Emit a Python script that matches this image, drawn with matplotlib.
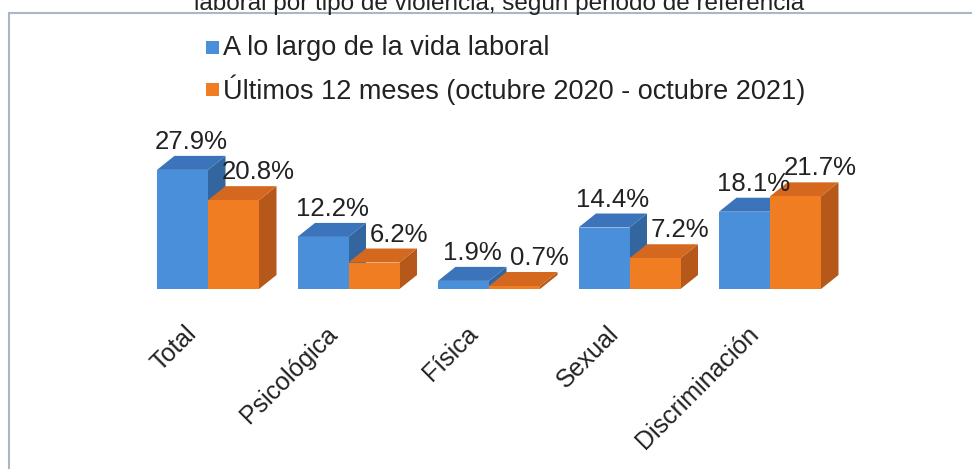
import matplotlib
matplotlib.use("Agg")
import matplotlib.pyplot as plt
from matplotlib.patches import Polygon, Rectangle
from matplotlib.lines import Line2D
from matplotlib.transforms import offset_copy

# ---------------------------------------------------------------------------
# data
# ---------------------------------------------------------------------------
categories = ["Total", "Psicológica", "Física", "Sexual", "Discriminación"]
vida_laboral = [27.9, 12.2, 1.9, 14.4, 18.1]
ultimos_12 = [20.8, 6.2, 0.7, 7.2, 21.7]
series_names = ["A lo largo de la vida laboral",
                "Últimos 12 meses (octubre 2020 - octubre 2021)"]
title = "laboral por tipo de violencia, según periodo de referencia"

# ---------------------------------------------------------------------------
# styling
# ---------------------------------------------------------------------------
plt.rcParams["font.family"] = ["Liberation Sans", "DejaVu Sans"]
TXT = "#222222"
BLUE = ("#4A8FD9", "#3B74BA", "#33669F")     # front, top, side
ORANGE = ("#F07D22", "#D4681F", "#B5581A")

W, H = 972, 469
fig = plt.figure(figsize=(W / 100, H / 100), dpi=100)


def fx(x):
    return x / W


def fy(y):  # y measured from top, in pixels
    return 1 - y / H


# axes placed so that the baseline sits at y=289 px
ax_left, ax_right, ax_bottom, ax_top = 60, 920, 289, 100
ax = fig.add_axes([fx(ax_left), fy(ax_bottom),
                   (ax_right - ax_left) / W, (ax_bottom - ax_top) / H])
px_per_cat = 140.5
px_per_pct = 4.27
x0 = -(208 - ax_left) / px_per_cat
ax.set_xlim(x0, x0 + (ax_right - ax_left) / px_per_cat)
ax.set_ylim(0, (ax_bottom - ax_top) / px_per_pct)
ax.axis("off")

bar_w = 51 / px_per_cat
depth_x = 17.5 / px_per_cat
depth_y = 14 / px_per_pct


def bar3d(xc, v, cols, z):
    left, right = xc - bar_w / 2, xc + bar_w / 2
    side = [(right, 0), (right + depth_x, depth_y),
            (right + depth_x, v + depth_y), (right, v)]
    top = [(left, v), (left + depth_x, v + depth_y),
           (right + depth_x, v + depth_y), (right, v)]
    ax.add_patch(Polygon(side, closed=True, facecolor=cols[2],
                         edgecolor="none", clip_on=False, zorder=z))
    ax.add_patch(Polygon(top, closed=True, facecolor=cols[1],
                         edgecolor="none", clip_on=False, zorder=z))
    ax.bar(xc, v, width=bar_w, color=cols[0], clip_on=False, zorder=z + 0.5)


for i, (a, b) in enumerate(zip(vida_laboral, ultimos_12)):
    bar3d(i - bar_w / 2, a, BLUE, 2 + i * 4)
    bar3d(i + bar_w / 2, b, ORANGE, 4 + i * 4)

# value labels
for i, (a, b) in enumerate(zip(vida_laboral, ultimos_12)):
    ax.annotate(f"{a:.1f}%", (i - bar_w / 2, a), xytext=(9, 28),
                textcoords="offset pixels", ha="center", va="center",
                fontsize=18.5, color=TXT, zorder=30, annotation_clip=False)
    ax.annotate(f"{b:.1f}%", (i + bar_w / 2, b), xytext=(25, 28),
                textcoords="offset pixels", ha="center", va="center",
                fontsize=18.5, color=TXT, zorder=30, annotation_clip=False)

# category labels, rotated
lab_tr = offset_copy(ax.transData, fig=fig, y=-41, units="dots")
for i, cat in enumerate(categories):
    ax.text(i - 15 / px_per_cat, 0, cat, transform=lab_tr, rotation=45,
            rotation_mode="anchor", ha="right", va="center",
            fontsize=18, color=TXT)

# legend
for k, (name, cols) in enumerate(zip(series_names, (BLUE, ORANGE))):
    yc = 48 + k * 42
    fig.patches.append(Rectangle((fx(206), fy(yc + 6.5)), 13 / W, 13 / H,
                                 transform=fig.transFigure,
                                 facecolor=cols[0], edgecolor="none"))
    fig.text(fx(223), fy(yc), name, ha="left", va="center",
             fontsize=19.5, color=TXT)

# title (cut off at the top, as in the source) and chart frame
fig.text(fx(499), fy(10), title, ha="center", va="baseline",
         fontsize=17.5, color=TXT)
frame = "#A9B7C9"
fig.add_artist(Line2D([fx(9), 1], [fy(13), fy(13)], color=frame, lw=1.5,
                      transform=fig.transFigure))
fig.add_artist(Line2D([fx(9), fx(9)], [fy(13), 0], color=frame, lw=1.5,
                      transform=fig.transFigure))

fig.savefig("out.png", dpi=100)
